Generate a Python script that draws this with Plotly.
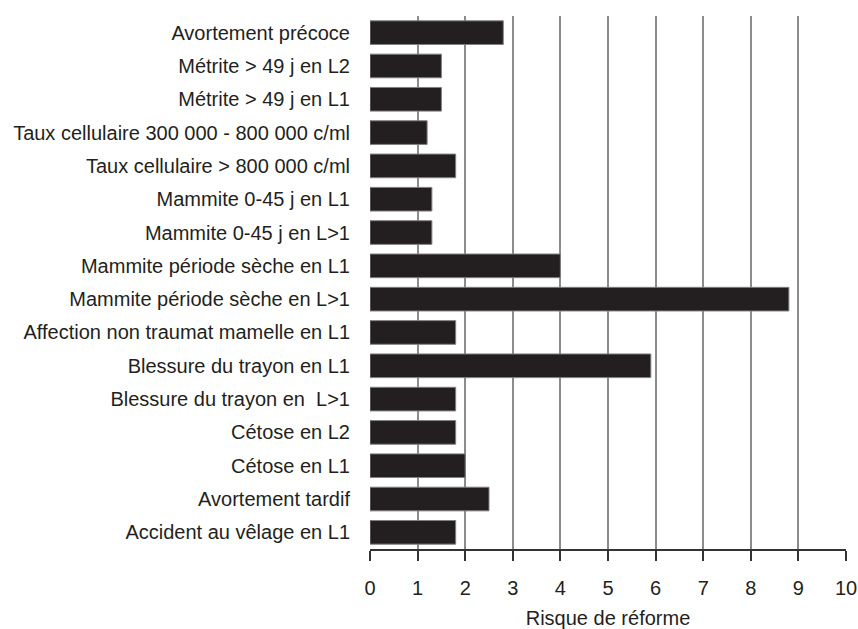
import plotly.graph_objects as go

categories = [
    "Avortement précoce",
    "Métrite > 49 j en L2",
    "Métrite > 49 j en L1",
    "Taux cellulaire 300 000 - 800 000 c/ml",
    "Taux cellulaire > 800 000 c/ml",
    "Mammite 0-45 j en L1",
    "Mammite 0-45 j en L>1",
    "Mammite période sèche en L1",
    "Mammite période sèche en L>1",
    "Affection non traumat mamelle en L1",
    "Blessure du trayon en L1",
    "Blessure du trayon en  L>1",
    "Cétose en L2",
    "Cétose en L1",
    "Avortement tardif",
    "Accident au vêlage en L1",
]
risque = [2.8, 1.5, 1.5, 1.2, 1.8, 1.3, 1.3, 4.0, 8.8, 1.8, 5.9, 1.8, 1.8, 2.0, 2.5, 1.8]
x_ticks = list(range(0, 11))
x_title = "Risque de réforme"

fig = go.Figure(
    go.Bar(
        x=risque,
        y=categories,
        orientation="h",
        marker=dict(color="#231f20", line=dict(color="#808080", width=1)),
        hoverinfo="x+y",
    )
)

font_family = "Liberation Sans, Arial, sans-serif"
fs = 20

fig.update_layout(
    width=858,
    height=629,
    margin=dict(l=370, r=12, t=16, b=80, autoexpand=False),
    paper_bgcolor="white",
    plot_bgcolor="white",
    bargap=0.29,
    showlegend=False,
    font=dict(family=font_family, size=fs, color="#231f20"),
    xaxis=dict(
        range=[0, 10],
        tickvals=x_ticks,
        ticktext=[str(v) for v in x_ticks],
        showgrid=True,
        gridcolor="#8c8c8c",
        gridwidth=1.5,
        zeroline=False,
        showline=True,
        linecolor="#333333",
        linewidth=1.5,
        ticks="outside",
        ticklen=10,
        tickwidth=1.5,
        tickcolor="#333333",
        ticklabelstandoff=10,
        tickfont=dict(size=fs),
        title=dict(text=x_title, font=dict(size=fs), standoff=15),
        automargin=False,
        fixedrange=True,
    ),
    yaxis=dict(
        categoryorder="array",
        categoryarray=categories,
        autorange="reversed",
        showgrid=False,
        zeroline=False,
        showline=False,
        ticks="",
        ticklabelstandoff=19,
        tickfont=dict(size=fs),
        automargin=False,
        fixedrange=True,
    ),
)

fig.write_html(
    "out.html",
    config={"displayModeBar": False},
    post_script="document.body.style.margin='0';document.body.style.padding='0';document.body.style.overflow='hidden';",
)
